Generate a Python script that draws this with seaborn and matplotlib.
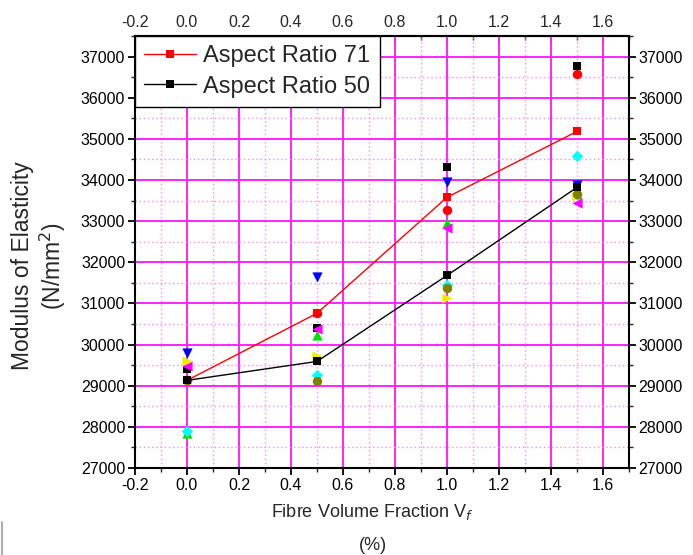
import matplotlib
matplotlib.use("Agg")
import matplotlib.pyplot as plt
import seaborn as sns
import numpy as np
import pandas as pd
from matplotlib.ticker import MultipleLocator

# ---- data ----
vf = [0.0, 0.5, 1.0, 1.5]
ar71 = [29130, 30760, 33580, 35180]
ar50 = [29130, 29590, 31680, 33820]

s_black = [29410, 30400, 34310, 36770]
s_red = [29130, 30760, 33270, 36570]
s_blue = [29790, 31640, 33950, 33880]
s_green = [27860, 30230, 32950, 33650]
s_magenta = [29490, 30370, 32830, 33440]
s_yellow = [29610, 29720, 31130, 33600]
s_cyan = [27910, 29250, 31440, 34580]
s_olive = [29130, 29110, 31370, 33660]

series_labels = ["Aspect Ratio 71", "Aspect Ratio 50"]
x_ticks = [-0.2, 0.0, 0.2, 0.4, 0.6, 0.8, 1.0, 1.2, 1.4, 1.6]
y_ticks = list(range(27000, 37001, 1000))

sns.set_theme(style="white")
plt.rcParams["font.family"] = ["Liberation Sans", "DejaVu Sans"]

fig = plt.figure(figsize=(6.93, 5.55), dpi=100)
ax = fig.add_axes([135 / 693, 1 - 468 / 555, (629 - 135) / 693, (468 - 36) / 555])

samples = [
    (s_black, "s", "#000000", 34),
    (s_red, "o", "#FF0000", 46),
    (s_blue, "v", "#0000FF", 54),
    (s_green, "^", "#00E000", 54),
    (s_magenta, "<", "#FF00FF", 54),
    (s_yellow, ">", "#EEEE00", 54),
    (s_cyan, "D", "#00FFFF", 34),
    (s_olive, "o", "#808000", 46),
]
for vals, mk, col, sz in samples:
    sns.scatterplot(x=vf, y=vals, marker=mk, color=col, s=sz, linewidth=0,
                    ax=ax, zorder=3, legend=False)

df = pd.DataFrame({"vf": vf * 2, "E": ar71 + ar50,
                   "series": [series_labels[0]] * 4 + [series_labels[1]] * 4})
sns.lineplot(data=df, x="vf", y="E", hue="series",
             palette={series_labels[0]: "#FF0000", series_labels[1]: "#000000"},
             marker="s", markersize=6.3, markeredgewidth=0, linewidth=1,
             ax=ax, zorder=4, errorbar=None)

ax.set_xlim(-0.2, 1.7)
ax.set_ylim(27000, 37500)
ax.set_xticks(x_ticks)
ax.set_yticks(y_ticks)
ax.set_xticklabels([f"{t:.1f}" for t in x_ticks])
ax.xaxis.set_minor_locator(MultipleLocator(0.1))
ax.yaxis.set_minor_locator(MultipleLocator(500))

ax.grid(True, which="major", color="#FF22FF", linewidth=1.4, linestyle="-")
ax.grid(True, which="minor", color="#FF88FF", linewidth=1.0, linestyle=(0, (1, 2)))
ax.set_axisbelow(True)

for sp in ax.spines.values():
    sp.set_color("black")
    sp.set_linewidth(1.5)

ax.tick_params(axis="both", which="major", direction="out", length=5, width=1.3,
               labelsize=11.5, colors="black", pad=2)
ax.tick_params(axis="both", which="minor", direction="out", length=3, width=1.0)
ax.tick_params(axis="y", which="both", left=True, right=True, labelleft=True, labelright=True)
ax.tick_params(axis="x", which="both", bottom=True, top=False)

sec = ax.secondary_xaxis("top")
sec.set_xticks(x_ticks)
sec.set_xticklabels([f"{t:.1f}" for t in x_ticks])
sec.xaxis.set_minor_locator(MultipleLocator(0.1))
sec.tick_params(which="major", direction="in", length=5, width=1.3, labelsize=11.5, pad=4)
sec.tick_params(which="minor", direction="in", length=3, width=1.0)
sec.spines["top"].set_linewidth(1.5)

ax.set_xlabel("")
ax.set_ylabel("")

leg = ax.legend(loc="upper left", fontsize=17, frameon=True, fancybox=False,
                borderaxespad=0, handlelength=2.2, handletextpad=0.3,
                borderpad=0.4, labelspacing=0.35)
leg.get_frame().set_edgecolor("black")
leg.get_frame().set_linewidth(1.0)
leg.get_frame().set_alpha(1)

fig.text(23 / 693, 1 - 266 / 555, "Modulus of Elasticity", rotation=90,
         ha="center", va="center", fontsize=16.5)
fig.text(53 / 693, 1 - 266 / 555, "(N/mm$^2$)", rotation=90,
         ha="center", va="center", fontsize=16.5)
fig.text(372 / 693, 1 - 512 / 555, "Fibre Volume Fraction V$_f$",
         ha="center", va="center", fontsize=13)
fig.text(373 / 693, 1 - 545 / 555, "(%)", ha="center", va="center", fontsize=13)

fig.add_artist(plt.Line2D([2 / 693, 2 / 693], [0, 1 - 522 / 555],
                          color="#B0B0B0", linewidth=1.5))

fig.savefig("out.png", dpi=100)
